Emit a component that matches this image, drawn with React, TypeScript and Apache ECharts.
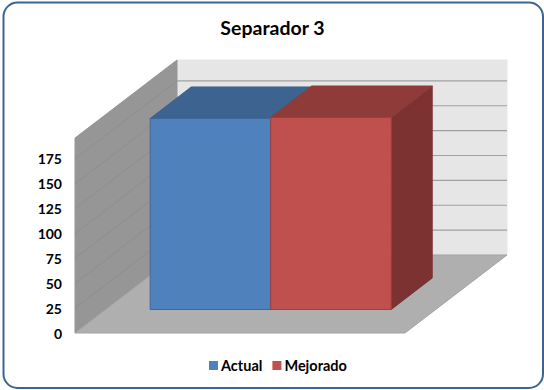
import React, { useEffect, useRef } from "react";
import * as echarts from "echarts";

const titleText = "Separador 3";
const categories = ["Separador 3"];
const seriesNames = ["Actual", "Mejorado"];
const actualValues = [192];
const mejoradoValues = [193];
const axisMax = 196;
const axisInterval = 25;
const wallTicks = [25, 50, 75, 100, 125, 150, 175];

const WALL_DX = 102;
const WALL_DY = -78;
const FRONT_DX = 30.7;
const FRONT_DY = -23.5;
const BAR_DX = 41;
const BAR_DY = -31.5;
const BAR_BAND = 0.3652;

const poly = (points: number[][], fill: string, stroke?: string, lineWidth = 1) => ({
  type: "polygon",
  shape: { points },
  style: { fill, stroke: stroke ?? fill, lineWidth },
});

const wallsRender = (params: any, api: any) => {
  const cat = api.value(0);
  const top = api.coord([cat, axisMax]);
  const zero = api.coord([cat, 0]);
  const band = api.size([1, 0])[0];
  const xl = zero[0] - band / 2;
  const xr = zero[0] + band / 2;
  const y0 = zero[1];
  const yt = top[1];
  const children: any[] = [
    poly(
      [[xl + WALL_DX, yt + WALL_DY], [xr + WALL_DX, yt + WALL_DY], [xr + WALL_DX, y0 + WALL_DY], [xl + WALL_DX, y0 + WALL_DY]],
      "#e6e6e6"
    ),
    poly([[xl, yt], [xl + WALL_DX, yt + WALL_DY], [xl + WALL_DX, y0 + WALL_DY], [xl, y0]], "#969696"),
    poly([[xl, y0], [xl + WALL_DX, y0 + WALL_DY], [xr + WALL_DX, y0 + WALL_DY], [xr, y0]], "#afafaf", "#a3a3a3"),
  ];
  wallTicks.forEach((t) => {
    const y = api.coord([cat, t])[1];
    children.push({
      type: "line",
      shape: { x1: xl + WALL_DX, y1: y + WALL_DY, x2: xr + WALL_DX, y2: y + WALL_DY },
      style: { stroke: "#a0a0a0", lineWidth: 1.2 },
    });
    children.push({
      type: "line",
      shape: { x1: xl, y1: y, x2: xl + WALL_DX, y2: y + WALL_DY },
      style: { stroke: "#8c8c8c", lineWidth: 0.8 },
    });
  });
  return { type: "group", children };
};

const barRender = (sign: number, front: string, topFace: string, side: string, edge: string) => (params: any, api: any) => {
  const cat = api.value(0);
  const v = api.value(1);
  const base = api.coord([cat, 0]);
  const head = api.coord([cat, v]);
  const band = api.size([1, 0])[0];
  const w = band * BAR_BAND;
  const x0 = base[0] + FRONT_DX + (sign < 0 ? -w : 0);
  const x1 = x0 + w;
  const yb = base[1] + FRONT_DY;
  const yt = head[1] + FRONT_DY;
  return {
    type: "group",
    children: [
      poly([[x1, yb], [x1 + BAR_DX, yb + BAR_DY], [x1 + BAR_DX, yt + BAR_DY], [x1, yt]], side),
      poly([[x0, yt], [x0 + BAR_DX, yt + BAR_DY], [x1 + BAR_DX, yt + BAR_DY], [x1, yt]], topFace),
      poly([[x0, yb], [x1, yb], [x1, yt], [x0, yt]], front, edge),
    ],
  };
};

const seriesColors = ["#4f81bd", "#c0504d"];

export default function App() {
  const ref = useRef<HTMLDivElement>(null);
  useEffect(() => {
    document.body.style.margin = "0";
    const chart = echarts.init(ref.current!, undefined, { renderer: "svg" });
    chart.setOption({
      animation: false,
      backgroundColor: "#ffffff",
      textStyle: { fontFamily: "Lato" },
      title: {
        text: titleText,
        left: 267.5,
        top: 12,
        textAlign: "center",
        textStyle: { fontFamily: "Lato", fontSize: 19.5, fontWeight: "bold", color: "#000000" },
      },
      legend: {
        data: seriesNames,
        left: 204,
        top: 353,
        itemWidth: 9,
        itemHeight: 9,
        itemGap: 10,
        icon: "rect",
        textStyle: { fontFamily: "Lato", fontSize: 14.5, fontWeight: "bold", color: "#000000", padding: [0, 0, 0, -2] },
      },
      graphic: [
        {
          type: "rect",
          z: -10,
          silent: true,
          shape: { x: 3.5, y: 2.5, width: 539.5, height: 385.5, r: 14 },
          style: { fill: "#ffffff", stroke: "#3d6594", lineWidth: 2 },
        },
      ],
      grid: { left: 75, top: 138, width: 330, height: 195, containLabel: false },
      xAxis: {
        type: "category",
        data: categories,
        axisLine: { show: false },
        axisTick: { show: false },
        axisLabel: { show: false },
      },
      yAxis: {
        type: "value",
        min: 0,
        max: axisMax,
        interval: axisInterval,
        axisLine: { show: false },
        axisTick: { show: false },
        splitLine: { show: false },
        axisLabel: {
          showMaxLabel: false,
          margin: 13,
          fontFamily: "Lato",
          fontSize: 14,
          fontWeight: "bold",
          color: "#000000",
        },
      },
      series: [
        {
          type: "custom",
          name: "walls",
          silent: true,
          renderItem: wallsRender,
          encode: { x: 0, y: 1 },
          data: [[categories[0], axisMax]],
          z: 1,
        },
        {
          type: "custom",
          name: seriesNames[0],
          renderItem: barRender(-1, seriesColors[0], "#3d6390", "#375a85", "#3f6899"),
          encode: { x: 0, y: 1 },
          itemStyle: { color: seriesColors[0] },
          data: categories.map((c, i) => [c, actualValues[i]]),
          z: 2,
        },
        {
          type: "custom",
          name: seriesNames[1],
          renderItem: barRender(1, seriesColors[1], "#8f3b39", "#7b3230", "#9c413f"),
          encode: { x: 0, y: 1 },
          itemStyle: { color: seriesColors[1] },
          data: categories.map((c, i) => [c, mejoradoValues[i]]),
          z: 3,
        },
      ],
    });
    return () => chart.dispose();
  }, []);
  return <div ref={ref} style={{ width: 544, height: 390 }} />;
}
